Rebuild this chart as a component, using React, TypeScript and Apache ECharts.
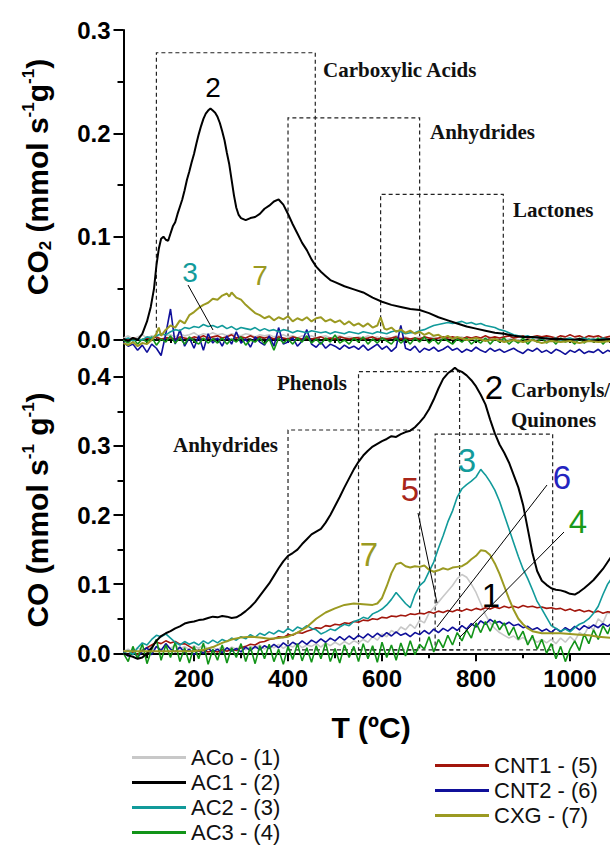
import React, { useEffect, useRef } from "react";
import * as echarts from "echarts";

// ---------- shared temperature grid (ºC) ----------
const tempGrid = [
  50, 60, 70, 80, 90, 100, 110, 120, 130, 140,
  150, 160, 170, 180, 190, 200, 210, 220, 230, 240,
  250, 260, 270, 280, 290, 300, 310, 320, 330, 340,
  350, 360, 370, 380, 390, 400, 410, 420, 430, 440,
  450, 460, 470, 480, 490, 500, 510, 520, 530, 540,
  550, 560, 570, 580, 590, 600, 610, 620, 630, 640,
  650, 660, 670, 680, 690, 700, 710, 720, 730, 740,
  750, 760, 770, 780, 790, 800, 810, 820, 830, 840,
  850, 860, 870, 880, 890, 900, 910, 920, 930, 940,
  950, 960, 970, 980, 990, 1000, 1010, 1020, 1030, 1040,
  1050, 1060, 1070, 1080, 1090,
];

// ---------- CO2 panel ----------
const co2AC1: [number, number][] = [
  [50, 0.001], [60, -0.001], [70, 0.002], [80, 0.0], [90, 0.006], [100, 0.018], [108, 0.032], [115, 0.05],
  [120, 0.072], [125, 0.088], [130, 0.098], [135, 0.1], [140, 0.097], [145, 0.096], [150, 0.103], [155, 0.11],
  [160, 0.114], [165, 0.122], [170, 0.129], [175, 0.136], [180, 0.145], [185, 0.155], [190, 0.163], [195, 0.172],
  [200, 0.18], [205, 0.19], [210, 0.199], [215, 0.207], [220, 0.214], [225, 0.219], [230, 0.222], [235, 0.224],
  [240, 0.222], [245, 0.22], [250, 0.216], [255, 0.21], [260, 0.202], [265, 0.193], [270, 0.181], [275, 0.17],
  [280, 0.155], [285, 0.14], [290, 0.128], [295, 0.121], [300, 0.118], [310, 0.116], [320, 0.118], [330, 0.119],
  [340, 0.122], [350, 0.127], [360, 0.13], [370, 0.134], [380, 0.136], [390, 0.131], [400, 0.122], [410, 0.112],
  [420, 0.103], [430, 0.094], [440, 0.087], [450, 0.078], [460, 0.071], [470, 0.066], [480, 0.062], [490, 0.058],
  [500, 0.056], [520, 0.052], [540, 0.049], [560, 0.046], [580, 0.041], [600, 0.037], [620, 0.034], [640, 0.032],
  [660, 0.03], [680, 0.029], [700, 0.026], [720, 0.022], [740, 0.019], [760, 0.016], [780, 0.013], [800, 0.011],
  [820, 0.009], [840, 0.007], [860, 0.006], [880, 0.004], [900, 0.003], [920, 0.003], [940, 0.002], [960, 0.001],
  [980, 0.001], [1000, 0.0], [1020, 0.001], [1040, -0.001], [1060, 0.0], [1090, 0.001],
];

const co2CXG: [number, number][] = [
  [50, -0.003], [60, -0.005], [70, -0.002], [80, -0.006], [90, -0.003], [100, -0.004], [110, 0.0], [120, 0.006],
  [125, 0.012], [130, 0.004], [140, 0.01], [150, 0.014], [160, 0.012], [170, 0.019], [180, 0.016], [190, 0.024],
  [200, 0.027], [210, 0.031], [220, 0.034], [230, 0.036], [240, 0.04], [250, 0.039], [260, 0.043], [270, 0.045],
  [275, 0.042], [280, 0.046], [290, 0.041], [300, 0.039], [310, 0.034], [320, 0.03], [330, 0.026], [340, 0.024],
  [350, 0.021], [360, 0.023], [370, 0.019], [380, 0.022], [390, 0.02], [400, 0.023], [410, 0.018], [420, 0.021],
  [430, 0.019], [440, 0.022], [450, 0.018], [460, 0.021], [470, 0.022], [480, 0.018], [490, 0.02], [500, 0.017],
  [510, 0.019], [520, 0.015], [530, 0.018], [540, 0.014], [550, 0.016], [560, 0.013], [570, 0.016], [580, 0.012],
  [590, 0.014], [597, 0.022], [605, 0.011], [610, 0.01], [620, 0.012], [630, 0.008], [640, 0.01], [650, 0.007],
  [660, 0.009], [670, 0.006], [680, 0.008], [690, 0.005], [700, 0.007], [710, 0.004], [720, 0.005], [730, 0.002],
  [740, 0.004], [750, 0.001], [760, 0.003], [780, 0.0], [800, 0.002], [820, -0.001], [840, 0.001], [860, -0.002],
  [880, 0.0], [900, -0.002], [920, 0.0], [940, -0.003], [960, -0.001], [980, -0.002], [1000, -0.001], [1020, -0.003],
  [1040, -0.001], [1060, -0.002], [1090, -0.001],
];

const co2AC2 = [
  0.0, 0.002, -0.001, 0.001, 0.0, 0.003, 0.002, 0.004, 0.006, 0.005,
  0.008, 0.01, 0.009, 0.012, 0.011, 0.013, 0.012, 0.015, 0.013, 0.014,
  0.012, 0.014, 0.011, 0.013, 0.01, 0.012, 0.011, 0.01, 0.012, 0.009,
  0.011, 0.009, 0.01, 0.008, 0.01, 0.009, 0.007, 0.009, 0.008, 0.007,
  0.009, 0.008, 0.007, 0.008, 0.006, 0.008, 0.007, 0.006, 0.008, 0.007,
  0.006, 0.008, 0.007, 0.006, 0.008, 0.007, 0.006, 0.008, 0.009, 0.008,
  0.006, 0.007, 0.007, 0.009, 0.01, 0.012, 0.014, 0.015, 0.016, 0.017,
  0.016, 0.017, 0.018, 0.016, 0.017, 0.015, 0.016, 0.014, 0.013, 0.012,
  0.01, 0.009, 0.007, 0.005, 0.004, 0.003, 0.004, 0.002, 0.003, 0.001,
  0.002, 0.001, 0.002, 0.0, 0.001, 0.002, 0.0, 0.001, 0.002, 0.0,
  0.001, 0.0, 0.002, 0.001, 0.0,
];

const co2ACo = [
  0.002, 0.004, 0.001, 0.003, 0.005, 0.002, 0.004, 0.003, 0.006, 0.004,
  0.005, 0.003, 0.006, 0.004, 0.005, 0.007, 0.004, 0.006, 0.005, 0.007,
  0.005, 0.006, 0.004, 0.006, 0.005, 0.004, 0.006, 0.005, 0.003, 0.005,
  0.004, 0.005, 0.003, 0.004, 0.005, 0.003, 0.004, 0.002, 0.004, 0.003,
  0.004, 0.002, 0.003, 0.004, 0.002, 0.003, 0.004, 0.002, 0.003, 0.002,
  0.003, 0.002, 0.004, 0.002, 0.003, 0.001, 0.003, 0.002, 0.004, 0.002,
  0.003, 0.001, 0.002, 0.003, 0.001, 0.002, 0.003, 0.001, 0.002, 0.003,
  0.001, 0.002, 0.003, 0.001, 0.002, 0.0, 0.002, 0.001, 0.003, 0.001,
  0.002, 0.0, 0.001, 0.002, 0.0, 0.001, 0.002, 0.0, 0.001, 0.002,
  0.0, 0.001, 0.002, 0.0, 0.001, 0.002, 0.0, 0.001, 0.0, 0.002,
  0.001, 0.0, 0.002, 0.001, 0.0,
];

const co2CNT1 = [
  0.001, 0.0, 0.002, 0.001, 0.0, 0.002, 0.001, 0.003, 0.001, 0.002,
  0.002, 0.001, 0.003, 0.002, 0.001, 0.003, 0.002, 0.004, 0.002, 0.003,
  0.004, 0.002, 0.003, 0.005, 0.002, 0.003, 0.002, 0.004, 0.002, 0.003,
  0.002, 0.003, 0.001, 0.003, 0.002, 0.001, 0.003, 0.002, 0.001, 0.002,
  0.001, 0.002, 0.003, 0.001, 0.002, 0.001, 0.003, 0.002, 0.001, 0.002,
  0.002, 0.001, 0.002, 0.003, 0.001, 0.002, 0.001, 0.002, 0.003, 0.001,
  0.002, 0.001, 0.002, 0.001, 0.003, 0.002, 0.001, 0.002, 0.003, 0.002,
  0.003, 0.002, 0.001, 0.003, 0.002, 0.003, 0.002, 0.004, 0.002, 0.003,
  0.002, 0.003, 0.004, 0.002, 0.003, 0.004, 0.002, 0.003, 0.004, 0.003,
  0.004, 0.003, 0.002, 0.004, 0.003, 0.005, 0.003, 0.004, 0.002, 0.004,
  0.003, 0.004, 0.002, 0.003, 0.004,
];

const co2CNT2 = [
  -0.002, -0.006, -0.004, -0.01, -0.005, -0.012, -0.004, -0.008, -0.015, 0.006,
  0.03, -0.004, 0.01, -0.006, 0.002, -0.008, 0.004, -0.01, 0.006, -0.003,
  0.002, -0.006, 0.004, -0.004, 0.008, -0.003, 0.001, -0.007, 0.003, -0.002,
  -0.005, 0.004, -0.006, 0.012, -0.004, -0.002, 0.002, -0.006, -0.001, 0.01,
  -0.004, -0.007, -0.002, -0.008, -0.004, -0.006, -0.009, -0.005, -0.008, -0.006,
  -0.009, -0.005, -0.01, -0.007, -0.004, -0.009, -0.006, -0.011, -0.007, 0.014,
  -0.008, -0.01, -0.006, -0.012, -0.008, -0.01, -0.007, -0.011, -0.009, -0.006,
  -0.01, -0.008, -0.012, -0.009, -0.011, -0.007, -0.01, -0.012, -0.008, -0.011,
  -0.009, -0.012, -0.01, -0.008, -0.011, -0.013, -0.009, -0.011, -0.008, -0.012,
  -0.01, -0.013, -0.009, -0.011, -0.014, -0.01, -0.012, -0.009, -0.013, -0.011,
  -0.012, -0.009, -0.013, -0.01, -0.012,
];

const co2AC3 = [
  0.0, -0.003, 0.002, -0.004, 0.001, -0.002, 0.003, -0.005, 0.001, -0.002,
  0.004, -0.003, 0.002, -0.004, 0.003, -0.001, -0.004, 0.002, -0.003, 0.001,
  -0.003, 0.002, -0.004, 0.001, -0.002, 0.003, -0.005, 0.0, -0.002, 0.002,
  -0.004, 0.001, -0.01, 0.002, -0.003, 0.001, -0.004, 0.002, -0.002, 0.004,
  -0.003, 0.001, -0.004, 0.002, -0.002, 0.005, -0.003, 0.0, -0.004, 0.002,
  -0.002, 0.003, -0.004, 0.001, -0.003, 0.002, -0.001, -0.004, 0.002, -0.003,
  0.001, -0.004, 0.002, -0.002, 0.003, -0.003, 0.001, -0.004, 0.002, -0.001,
  -0.004, 0.001, -0.002, 0.002, -0.004, 0.0, -0.003, 0.002, -0.004, 0.001,
  -0.002, 0.002, -0.004, 0.0, -0.003, 0.002, -0.004, 0.001, -0.002, 0.002,
  -0.003, 0.001, -0.004, 0.002, -0.002, 0.0, -0.004, 0.002, -0.003, 0.001,
  -0.002, 0.002, -0.004, 0.001, -0.002,
];

// ---------- CO panel ----------
const coAC1: [number, number][] = [
  [50, 0.0], [60, -0.003], [70, -0.005], [80, -0.008], [90, -0.006], [100, 0.0], [110, 0.008], [120, 0.018],
  [130, 0.025], [140, 0.029], [150, 0.032], [160, 0.036], [170, 0.039], [180, 0.043], [190, 0.045], [200, 0.046],
  [210, 0.048], [220, 0.049], [230, 0.051], [240, 0.053], [250, 0.052], [260, 0.054], [270, 0.053], [280, 0.051],
  [290, 0.052], [300, 0.056], [310, 0.061], [320, 0.067], [330, 0.074], [340, 0.083], [350, 0.092], [360, 0.101],
  [370, 0.112], [380, 0.123], [390, 0.133], [400, 0.141], [410, 0.145], [420, 0.15], [430, 0.158], [440, 0.165],
  [450, 0.172], [460, 0.176], [470, 0.18], [480, 0.189], [490, 0.2], [500, 0.213], [510, 0.226], [520, 0.24],
  [530, 0.253], [540, 0.266], [550, 0.277], [560, 0.286], [570, 0.293], [580, 0.299], [590, 0.303], [600, 0.307],
  [610, 0.31], [620, 0.314], [630, 0.313], [640, 0.317], [650, 0.32], [660, 0.322], [670, 0.327], [680, 0.334],
  [690, 0.342], [700, 0.353], [710, 0.367], [720, 0.383], [730, 0.397], [740, 0.405], [750, 0.41], [755, 0.413],
  [760, 0.41], [770, 0.407], [780, 0.402], [790, 0.395], [800, 0.386], [810, 0.374], [820, 0.36], [830, 0.338],
  [840, 0.318], [850, 0.302], [860, 0.29], [870, 0.276], [880, 0.258], [890, 0.24], [900, 0.215], [910, 0.18],
  [920, 0.145], [930, 0.119], [940, 0.105], [950, 0.099], [960, 0.094], [970, 0.092], [980, 0.091], [990, 0.089],
  [1000, 0.086], [1010, 0.085], [1020, 0.089], [1030, 0.094], [1040, 0.1], [1050, 0.106], [1060, 0.114],
  [1070, 0.122], [1080, 0.132], [1090, 0.142],
];

const coAC2: [number, number][] = [
  [50, 0.0], [60, 0.004], [70, -0.002], [80, 0.008], [90, 0.015], [100, 0.012], [110, 0.02], [120, 0.026],
  [130, 0.024], [140, 0.028], [150, 0.022], [160, 0.016], [170, 0.012], [180, 0.017], [190, 0.013], [200, 0.016],
  [210, 0.012], [220, 0.018], [230, 0.014], [240, 0.019], [250, 0.015], [260, 0.02], [270, 0.017], [280, 0.022],
  [290, 0.019], [300, 0.024], [310, 0.021], [320, 0.027], [330, 0.023], [340, 0.029], [350, 0.026], [360, 0.031],
  [370, 0.028], [380, 0.033], [390, 0.03], [400, 0.036], [410, 0.032], [420, 0.038], [430, 0.035], [440, 0.04],
  [450, 0.036], [460, 0.034], [470, 0.028], [480, 0.031], [490, 0.035], [500, 0.033], [510, 0.038], [520, 0.042],
  [530, 0.04], [540, 0.046], [550, 0.048], [560, 0.052], [570, 0.05], [580, 0.057], [590, 0.06], [600, 0.064],
  [610, 0.07], [620, 0.078], [630, 0.088], [640, 0.08], [650, 0.072], [660, 0.066], [670, 0.085], [680, 0.098],
  [690, 0.104], [700, 0.118], [710, 0.132], [720, 0.152], [730, 0.17], [740, 0.19], [750, 0.206], [760, 0.226],
  [770, 0.238], [780, 0.244], [790, 0.249], [800, 0.255], [810, 0.266], [815, 0.262], [820, 0.258], [830, 0.248],
  [840, 0.236], [850, 0.22], [860, 0.2], [870, 0.18], [880, 0.16], [890, 0.14], [900, 0.122], [910, 0.108],
  [920, 0.092], [930, 0.075], [940, 0.064], [950, 0.052], [960, 0.04], [970, 0.036], [980, 0.032], [990, 0.035],
  [1000, 0.031], [1010, 0.037], [1020, 0.042], [1030, 0.045], [1040, 0.05], [1050, 0.058], [1060, 0.068],
  [1070, 0.085], [1080, 0.1], [1090, 0.11],
];

const coCXG: [number, number][] = [
  [50, 0.003], [100, 0.003], [150, 0.003], [200, 0.003], [220, 0.005], [240, 0.009], [260, 0.015], [280, 0.02],
  [300, 0.023], [320, 0.024], [340, 0.023], [360, 0.021], [380, 0.022], [400, 0.024], [420, 0.03], [440, 0.038],
  [460, 0.05], [480, 0.059], [500, 0.065], [520, 0.07], [540, 0.072], [560, 0.071], [580, 0.07], [590, 0.072],
  [600, 0.08], [610, 0.097], [620, 0.116], [630, 0.129], [640, 0.131], [650, 0.126], [660, 0.124], [670, 0.126],
  [680, 0.125], [690, 0.127], [700, 0.121], [710, 0.118], [720, 0.12], [730, 0.123], [740, 0.121], [750, 0.124],
  [760, 0.125], [770, 0.126], [780, 0.13], [790, 0.136], [800, 0.141], [810, 0.149], [820, 0.148], [830, 0.142],
  [840, 0.13], [850, 0.115], [860, 0.097], [870, 0.079], [880, 0.063], [890, 0.05], [900, 0.042], [910, 0.036],
  [920, 0.032], [940, 0.029], [960, 0.029], [980, 0.029], [1000, 0.028], [1020, 0.027], [1040, 0.026],
  [1060, 0.024], [1090, 0.022],
];

const coACo = [
  0.003, 0.006, 0.002, 0.008, 0.004, 0.009, 0.005, 0.01, 0.006, 0.011,
  0.007, 0.012, 0.006, 0.01, 0.005, 0.011, 0.007, 0.012, 0.006, 0.009,
  0.005, 0.01, 0.004, 0.009, 0.006, 0.011, 0.005, 0.01, 0.007, 0.012,
  0.006, 0.011, 0.008, 0.013, 0.007, 0.012, 0.009, 0.014, 0.008, 0.012,
  0.01, 0.014, 0.009, 0.015, 0.011, 0.016, 0.012, 0.017, 0.013, 0.018,
  0.015, 0.02, 0.016, 0.024, 0.019, 0.028, 0.024, 0.033, 0.029, 0.038,
  0.034, 0.042, 0.036, 0.048, 0.044, 0.058, 0.066, 0.074, 0.082, 0.09,
  0.098, 0.108, 0.114, 0.11, 0.1, 0.088, 0.072, 0.056, 0.044, 0.036,
  0.03, 0.026, 0.022, 0.025, 0.019, 0.023, 0.017, 0.021, 0.016, 0.02,
  0.015, 0.02, 0.014, 0.022, 0.016, 0.024, 0.018, 0.03, 0.026, 0.04,
  0.034, 0.05, 0.044, 0.06, 0.055,
];

const coCNT1 = [
  0.0, -0.003, 0.002, -0.002, 0.004, 0.008, 0.012, 0.016, 0.014, 0.018,
  0.015, 0.017, 0.013, 0.014, 0.01, 0.006, 0.003, 0.004, 0.002, 0.004,
  0.002, 0.005, 0.003, 0.006, 0.004, 0.008, 0.01, 0.013, 0.012, 0.016,
  0.017, 0.02, 0.021, 0.024, 0.023, 0.027, 0.026, 0.03, 0.029, 0.032,
  0.034, 0.037, 0.036, 0.04, 0.039, 0.042, 0.041, 0.044, 0.043, 0.046,
  0.045, 0.048, 0.047, 0.05, 0.049, 0.052, 0.051, 0.054, 0.053, 0.055,
  0.054, 0.057, 0.056, 0.058, 0.057, 0.06, 0.058, 0.061, 0.059, 0.062,
  0.06, 0.063, 0.061, 0.064, 0.062, 0.065, 0.063, 0.066, 0.064, 0.067,
  0.065, 0.068, 0.066, 0.068, 0.066, 0.069, 0.067, 0.068, 0.066, 0.067,
  0.065, 0.066, 0.064, 0.065, 0.062, 0.064, 0.061, 0.063, 0.06, 0.062,
  0.059, 0.061, 0.058, 0.06, 0.059,
];

const coCNT2 = [
  0.002, -0.004, 0.005, -0.006, 0.003, 0.008, -0.002, 0.01, 0.004, 0.014,
  0.006, 0.002, 0.009, 0.001, 0.006, -0.002, 0.005, 0.0, 0.007, 0.002,
  0.006, 0.001, 0.008, 0.003, 0.007, 0.002, 0.009, 0.004, 0.01, 0.005,
  0.011, 0.007, 0.013, 0.008, 0.015, 0.01, 0.016, 0.012, 0.018, 0.013,
  0.019, 0.015, 0.021, 0.016, 0.022, 0.018, 0.024, 0.019, 0.025, 0.02,
  0.026, 0.022, 0.028, 0.023, 0.029, 0.024, 0.03, 0.025, 0.031, 0.026,
  0.029, 0.024, 0.03, 0.027, 0.033, 0.028, 0.035, 0.03, 0.036, 0.032,
  0.038, 0.033, 0.04, 0.035, 0.043, 0.038, 0.047, 0.042, 0.049, 0.044,
  0.046, 0.041, 0.045, 0.04, 0.042, 0.037, 0.039, 0.034, 0.037, 0.032,
  0.035, 0.03, 0.036, 0.031, 0.037, 0.033, 0.039, 0.034, 0.04, 0.036,
  0.041, 0.037, 0.043, 0.039, 0.044,
];

const coAC3 = [
  0.0, -0.012, 0.01, -0.008, 0.014, -0.015, 0.006, 0.02, -0.01, 0.012,
  -0.006, 0.016, -0.012, 0.008, -0.014, 0.01, -0.008, 0.015, -0.016, 0.006,
  -0.01, 0.012, -0.014, 0.008, -0.006, 0.014, -0.012, 0.009, -0.015, 0.011,
  -0.008, 0.013, -0.012, 0.006, -0.016, 0.01, -0.009, 0.014, -0.011, 0.008,
  -0.013, 0.011, -0.008, 0.015, -0.012, 0.007, -0.014, 0.012, -0.006, 0.01,
  -0.012, 0.014, -0.008, 0.011, -0.013, 0.016, -0.006, 0.012, -0.01, 0.015,
  -0.004, 0.018, -0.002, 0.013, 0.006, 0.024, 0.002, 0.02, 0.008, 0.026,
  0.012, 0.03, 0.018, 0.034, 0.022, 0.044, 0.03, 0.046, 0.032, 0.048,
  0.034, 0.044, 0.026, 0.038, 0.02, 0.032, 0.012, 0.026, 0.006, 0.02,
  0.0, 0.014, -0.008, 0.01, -0.012, 0.006, 0.018, 0.004, 0.028, 0.014,
  0.034, 0.02, 0.04, 0.028, 0.046,
];

// ---------- axis ticks ----------
const co2MajorTicks = [0, 0.1, 0.2, 0.3];
const co2MinorTicks = [0.05, 0.15, 0.25];
const coMajorTicks = [0, 0.1, 0.2, 0.3, 0.4];
const coMinorTicks = [0.05, 0.15, 0.25, 0.35];
const tempMajorTicks = [200, 400, 600, 800, 1000];
const tempMinorTicks = [100, 300, 500, 700, 900];

// ---------- dashed region boxes (T range, height) ----------
const co2Boxes = [
  { from: 120, to: 458, top: 0.278 },
  { from: 400, to: 680, top: 0.215 },
  { from: 597, to: 858, top: 0.141 },
];
const coBoxes = [
  { from: 400, to: 680, top: 0.323 },
  { from: 550, to: 765, top: 0.4075 },
  { from: 713, to: 963, top: 0.317 },
];

const colors: Record<string, string> = {
  "ACo - (1)": "#c8c8c8",
  "AC1 - (2)": "#000000",
  "AC2 - (3)": "#119a9a",
  "AC3 - (4)": "#129418",
  "CNT1 - (5)": "#a2160c",
  "CNT2 - (6)": "#10109a",
  "CXG - (7)": "#9b9a22",
};

const SANS = "'Liberation Sans', Arial, sans-serif";
const SERIF = "'Liberation Serif', 'Times New Roman', serif";

const onGrid = (vals: number[]) => vals.map((v, i) => [tempGrid[i], v]);

export default function App() {
  const ref = useRef<HTMLDivElement>(null);

  useEffect(() => {
    if (!ref.current) return;
    const chart = echarts.init(ref.current, undefined, { renderer: "svg" });

    const X_MIN = 50;
    const X_MAX = 1085;

    const mkSeries = (name: string, data: any, xi: number, yi: number, width: number, extra: any = {}) => ({
      type: "line",
      name,
      data,
      xAxisIndex: xi,
      yAxisIndex: yi,
      symbol: "none",
      showSymbol: false,
      clip: false,
      lineStyle: { color: colors[name], width },
      itemStyle: { color: colors[name] },
      emphasis: { disabled: true },
      silent: true,
      ...extra,
    });

    const boxArea = (boxes: { from: number; to: number; top: number }[], bottom: number) => ({
      silent: true,
      itemStyle: {
        color: "rgba(0,0,0,0)",
        borderColor: "#222",
        borderWidth: 1.2,
        borderType: [4, 3],
      },
      label: { show: false },
      data: boxes.map((b) => [{ coord: [b.from, bottom] }, { coord: [b.to, b.top] }]),
    });

    const tickLabel = {
      fontFamily: SANS,
      fontWeight: "bold",
      fontSize: 24,
      color: "#000",
    };

    const seriesFor = (gi: 0 | 1, d: Record<string, any>) => {
      const xi = gi === 0 ? 0 : 1;
      const yi = gi === 0 ? 0 : 2;
      const order = ["ACo - (1)", "CNT1 - (5)", "CNT2 - (6)", "AC3 - (4)", "AC2 - (3)", "AC1 - (2)", "CXG - (7)"];
      return order.map((n) =>
        mkSeries(n, d[n], xi, yi, n === "AC1 - (2)" || n === "CXG - (7)" ? 2 : 1.6,
          n === "AC1 - (2)" ? { markArea: boxArea(gi === 0 ? co2Boxes : coBoxes, gi === 0 ? 0.001 : 0.005) } : {})
      );
    };

    const topData = {
      "ACo - (1)": onGrid(co2ACo),
      "AC1 - (2)": co2AC1,
      "AC2 - (3)": onGrid(co2AC2),
      "AC3 - (4)": onGrid(co2AC3),
      "CNT1 - (5)": onGrid(co2CNT1),
      "CNT2 - (6)": onGrid(co2CNT2),
      "CXG - (7)": co2CXG,
    };
    const bottomData = {
      "ACo - (1)": onGrid(coACo),
      "AC1 - (2)": coAC1,
      "AC2 - (3)": coAC2,
      "AC3 - (4)": onGrid(coAC3),
      "CNT1 - (5)": onGrid(coCNT1),
      "CNT2 - (6)": onGrid(coCNT2),
      "CXG - (7)": coCXG,
    };

    const txt = (text: string, x: number, y: number, fill: string, fontSize: number, extra: any = {}) => ({
      type: "text",
      x,
      y,
      z: 100,
      silent: true,
      style: {
        text,
        fill,
        fontSize,
        fontFamily: SANS,
        align: "center",
        verticalAlign: "middle",
        ...extra,
      },
    });
    const boxTxt = (text: string, x: number, y: number) => ({
      type: "text",
      x,
      y,
      z: 100,
      silent: true,
      style: {
        text,
        fill: "#111",
        fontSize: 21,
        fontWeight: "bold",
        fontFamily: SERIF,
        align: "left",
        verticalAlign: "middle",
      },
    });
    const lead = (x1: number, y1: number, x2: number, y2: number) => ({
      type: "line",
      z: 100,
      silent: true,
      shape: { x1, y1, x2, y2 },
      style: { stroke: "#000", lineWidth: 1 },
    });

    const titleRich = {
      a: { fontSize: 30, fontWeight: "bold", fontFamily: SANS, fill: "#000", color: "#000", lineHeight: 34, verticalAlign: "middle" },
      sup: { fontSize: 17, fontWeight: "bold", fontFamily: SANS, fill: "#000", color: "#000", lineHeight: 17, verticalAlign: "top" },
      sub: { fontSize: 17, fontWeight: "bold", fontFamily: SANS, fill: "#000", color: "#000", lineHeight: 17, verticalAlign: "bottom" },
    };

    const legendBase = {
      orient: "vertical",
      itemWidth: 54,
      itemHeight: 3,
      itemGap: 2,
      icon: "rect",
      height: 140,
      padding: 0,
      selectedMode: false,
      textStyle: { fontSize: 22, fontFamily: SANS, color: "#111", lineHeight: 23 },
    };

    const option: any = {
      animation: false,
      backgroundColor: "#ffffff",
      grid: [
        { left: 123.5, top: 30, width: 486.5, height: 326 },
        { left: 123.5, top: 356, width: 486.5, height: 297.3 },
      ],
      xAxis: [
        {
          gridIndex: 0,
          type: "value",
          position: "top",
          min: X_MIN,
          max: X_MAX,
          interval: 50,
          axisLine: { show: true, lineStyle: { color: "#000", width: 2 } },
          axisTick: { show: true, inside: true, length: 3, lineStyle: { color: "#000", width: 2 } },
          axisLabel: { show: false },
          splitLine: { show: false },
        },
        {
          gridIndex: 1,
          type: "value",
          position: "bottom",
          min: X_MIN,
          max: X_MAX,
          axisLine: { show: true, lineStyle: { color: "#000", width: 2 } },
          axisTick: { show: true, length: 8, customValues: tempMajorTicks, lineStyle: { color: "#000", width: 2 } },
          axisLabel: { ...tickLabel, margin: 13, customValues: tempMajorTicks, formatter: (v: number) => String(v) },
          splitLine: { show: false },
        },
        {
          gridIndex: 1,
          type: "value",
          position: "bottom",
          min: X_MIN,
          max: X_MAX,
          axisLine: { show: false },
          axisTick: { show: true, length: 5, customValues: tempMinorTicks, lineStyle: { color: "#000", width: 2 } },
          axisLabel: { show: false },
          splitLine: { show: false },
        },
      ],
      yAxis: [
        {
          gridIndex: 0,
          type: "value",
          position: "left",
          min: -0.0155,
          max: 0.3,
          axisLine: { show: true, lineStyle: { color: "#000", width: 2 } },
          axisTick: { show: true, length: 10, customValues: co2MajorTicks, lineStyle: { color: "#000", width: 2 } },
          axisLabel: { ...tickLabel, margin: 13, customValues: co2MajorTicks, formatter: (v: number) => v.toFixed(1) },
          splitLine: { show: false },
        },
        {
          gridIndex: 0,
          type: "value",
          position: "left",
          min: -0.0155,
          max: 0.3,
          axisLine: { show: false },
          axisTick: { show: true, length: 6, customValues: co2MinorTicks, lineStyle: { color: "#000", width: 2 } },
          axisLabel: { show: false },
          splitLine: { show: false },
        },
        {
          gridIndex: 1,
          type: "value",
          position: "left",
          min: 0,
          max: 0.43,
          axisLine: { show: true, lineStyle: { color: "#000", width: 2 } },
          axisTick: { show: true, length: 10, customValues: coMajorTicks, lineStyle: { color: "#000", width: 2 } },
          axisLabel: { ...tickLabel, margin: 13, customValues: coMajorTicks, formatter: (v: number) => v.toFixed(1) },
          splitLine: { show: false },
        },
        {
          gridIndex: 1,
          type: "value",
          position: "left",
          min: 0,
          max: 0.43,
          axisLine: { show: false },
          axisTick: { show: true, length: 6, customValues: coMinorTicks, lineStyle: { color: "#000", width: 2 } },
          axisLabel: { show: false },
          splitLine: { show: false },
        },
      ],
      legend: [
        {
          ...legendBase,
          data: ["ACo - (1)", "AC1 - (2)", "AC2 - (3)", "AC3 - (4)"],
          left: 132,
          top: 746,
        },
        {
          ...legendBase,
          data: ["CNT1 - (5)", "CNT2 - (6)", "CXG - (7)"],
          left: 435,
          top: 754,
        },
      ],
      series: [...seriesFor(0, topData), ...seriesFor(1, bottomData)],
      graphic: [
        {
          type: "text",
          x: 37,
          y: 177,
          rotation: Math.PI / 2,
          z: 100,
          silent: true,
          style: {
            text: "{a|CO}{sub|2}{a| (mmol s}{sup|-1}{a|g}{sup|-1}{a|)}",
            rich: titleRich,
            align: "center",
            verticalAlign: "middle",
            fill: "#000",
          },
        },
        {
          type: "text",
          x: 37,
          y: 510,
          rotation: Math.PI / 2,
          z: 100,
          silent: true,
          style: {
            text: "{a|CO (mmol s}{sup|-1}{a| g}{sup|-1}{a|)}",
            rich: titleRich,
            align: "center",
            verticalAlign: "middle",
            fill: "#000",
          },
        },
        txt("T (ºC)", 371, 727, "#000", 30, { fontWeight: "bold" }),
        boxTxt("Carboxylic Acids", 323, 70),
        boxTxt("Anhydrides", 430, 132),
        boxTxt("Lactones", 513, 210),
        boxTxt("Phenols", 277, 383),
        boxTxt("Anhydrides", 173, 445),
        boxTxt("Carbonyls/", 511, 390),
        boxTxt("Quinones", 511, 420),
        txt("2", 213, 87, "#000", 28),
        txt("3", 190, 272, "#139b9b", 28),
        txt("7", 260, 275, "#9b9a22", 28),
        lead(188, 285, 213, 330),
        txt("2", 494, 387, "#000", 33),
        txt("3", 467, 460, "#139b9b", 33),
        txt("5", 410, 489, "#a8261a", 33),
        txt("6", 562, 477, "#2424bf", 33),
        txt("4", 578, 521, "#1a9a1a", 33),
        txt("7", 369, 554, "#9b9a22", 33),
        txt("1", 491, 595, "#000", 33),
        lead(418, 513, 437, 603),
        lead(547, 485, 437, 627),
        lead(564, 532, 460, 637),
      ],
    };

    chart.setOption(option);
    return () => chart.dispose();
  }, []);

  return (
    <div
      ref={ref}
      style={{ position: "fixed", left: 0, top: 0, width: 610, height: 847, background: "#fff" }}
    />
  );
}
